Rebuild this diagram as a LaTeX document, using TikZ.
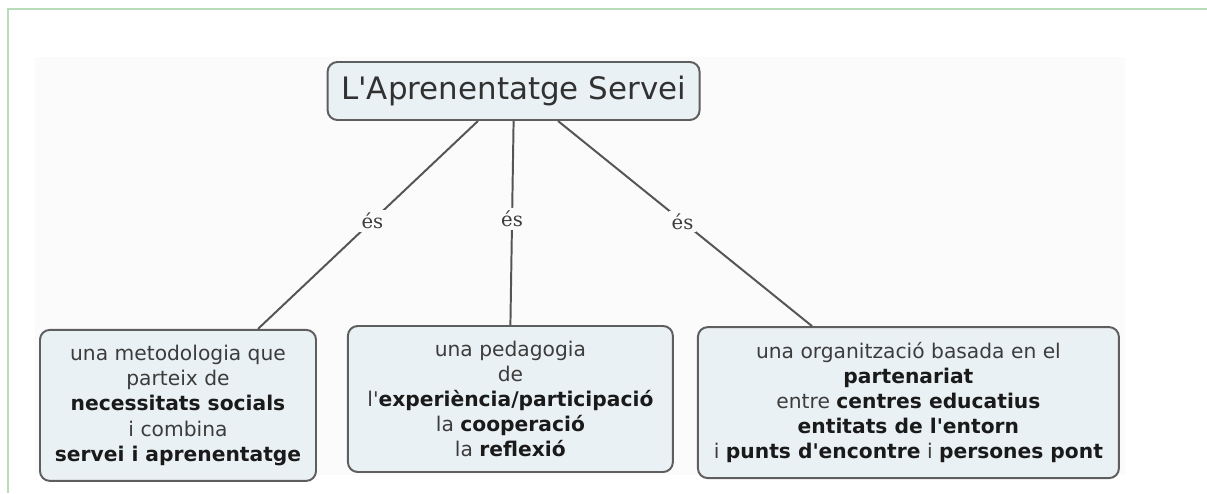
\documentclass[tikz,border=0pt]{standalone}
\usepackage{fontspec}
\setmainfont{DejaVu Sans}[Ligatures=TeXOff]
\newfontfamily\labelfont{DejaVu Serif}
\definecolor{boxfill}{HTML}{EAF1F4}
\definecolor{boxline}{HTML}{5E5E5E}
\definecolor{linkgray}{HTML}{555555}
\definecolor{textgray}{HTML}{3C3C3C}
\definecolor{textdark}{HTML}{1A1A1A}
\definecolor{panel}{HTML}{FBFBFB}
\definecolor{frame}{HTML}{B8DCB8}
\newcommand{\negreta}[1]{\textbf{\color{textdark}#1}}
\tikzset{
  concept/.style={draw=boxline, line width=1.4pt, fill=boxfill, rounded corners=7pt,
    align=center, text=textgray, font=\fontsize{14.4}{17.9}\selectfont},
  link/.style={draw=linkgray, line width=1.4pt},
  es/.style={fill=panel, inner sep=2pt, text=textgray, font=\labelfont\fontsize{14}{16}\selectfont}
}
\begin{document}
\begin{tikzpicture}
\useasboundingbox (0,0) rectangle (30.175,12.325);
% page frame and panel
\fill[panel] (0.875,0.45) rectangle (28.125,10.9);
\draw[frame, line width=0.8pt] (0.2,0) -- (0.2,12.1) -- (30.175,12.1);
% concepts
\node[concept, minimum width=9.3cm, minimum height=1.45cm,
  font=\fontsize{22}{26}\selectfont, text=textdark!90] (root) at (12.84,10.05) {L'Aprenentatge Servei};
\node[concept, minimum width=6.9cm, minimum height=3.775cm] (lbox) at (4.45,2.19)
  {una metodologia que\\ parteix de\\ \negreta{necessitats socials}\\ i combina\\ \negreta{servei i aprenentatge}};
\node[concept, minimum width=8.125cm, minimum height=3.65cm] (mbox) at (12.76,2.35)
  {una pedagogia\\ de\\ l'\negreta{experiència/participació}\\ la \negreta{cooperació}\\ la \negreta{reflexió}};
\node[concept, minimum width=10.525cm, minimum height=3.775cm] (rbox) at (22.71,2.26)
  {una organització basada en el\\ \negreta{partenariat}\\ entre \negreta{centres educatius}\\ \negreta{entitats de l'entorn}\\ i \negreta{punts d'encontre} i \negreta{persones pont}};
% links
\draw[link] ([xshift=-0.89cm]root.south) -- node[es, pos=0.48] {és} ([xshift=2cm]lbox.north);
\draw[link] (root.south) -- node[es, pos=0.48] {és} (mbox.north);
\draw[link] ([xshift=1.11cm]root.south) -- node[es, pos=0.49] {és} ([xshift=-2.41cm]rbox.north);
\end{tikzpicture}
\end{document}
